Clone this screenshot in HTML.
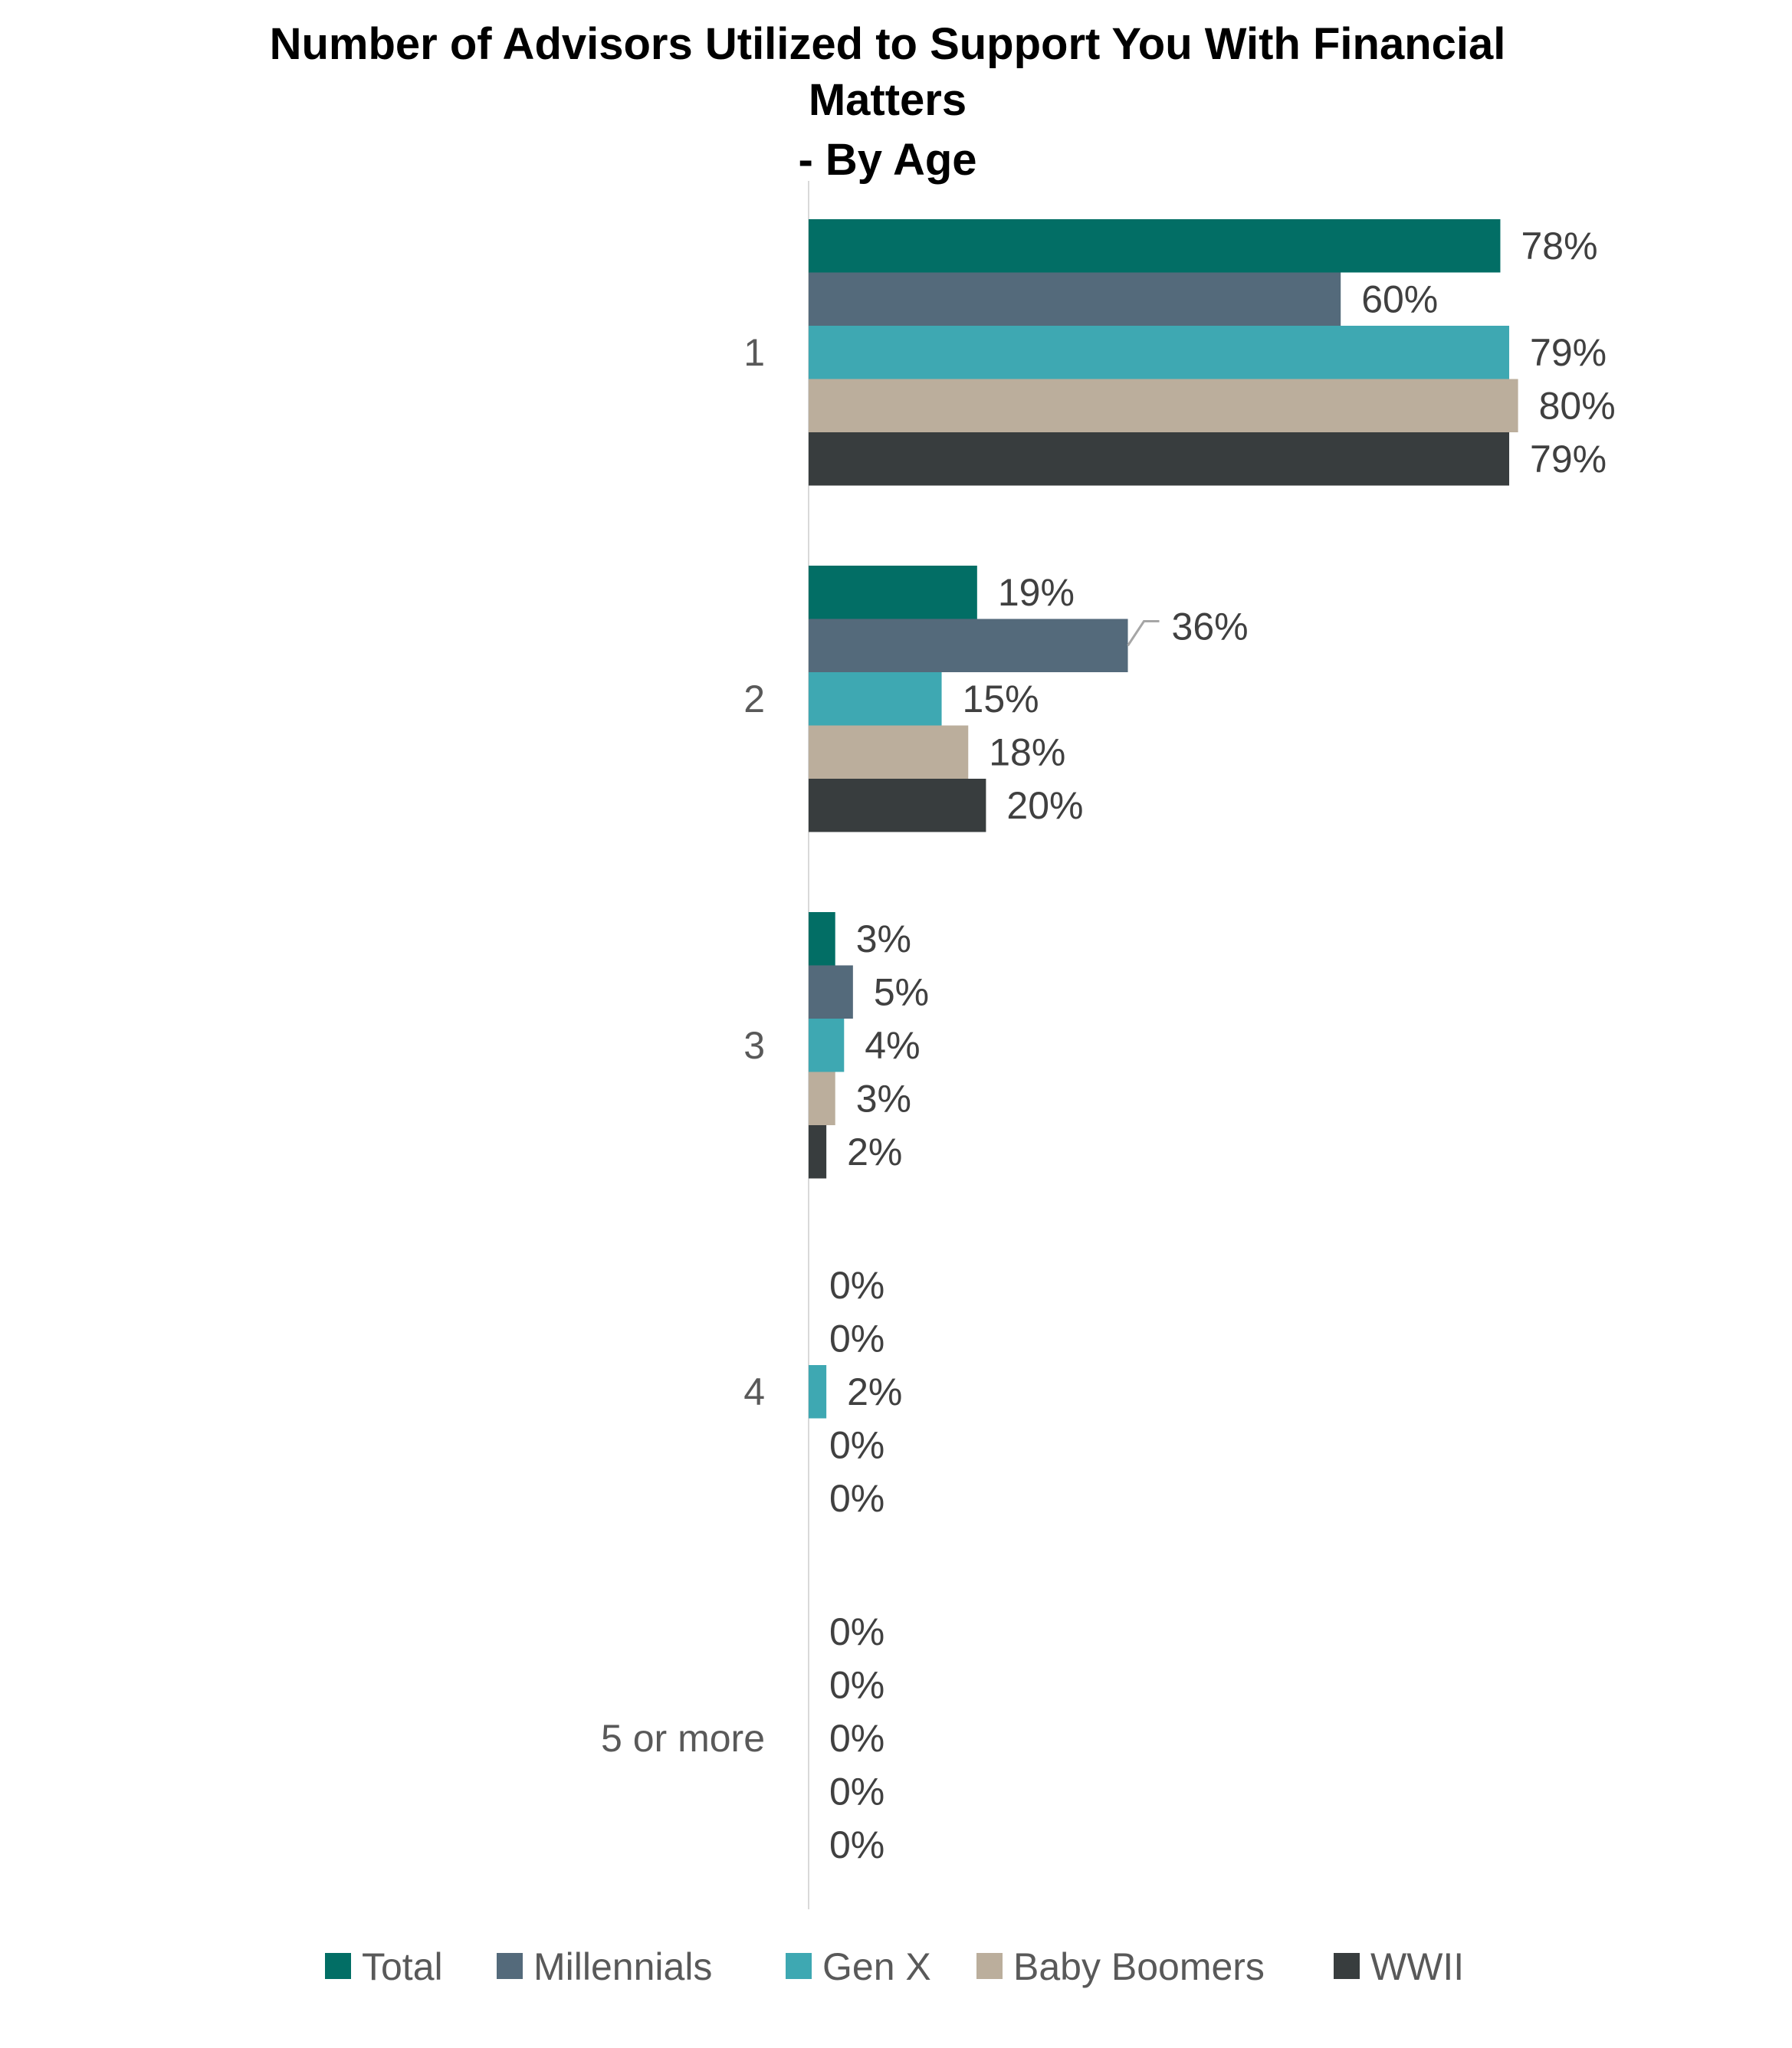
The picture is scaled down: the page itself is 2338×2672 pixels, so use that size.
<!DOCTYPE html>
<html><head><meta charset="utf-8"><style>
html,body{margin:0;padding:0;background:#fff}
svg text{font-family:"Liberation Sans","DejaVu Sans",sans-serif}
</style></head><body>
<svg id="chart" width="2338" height="2667" viewBox="0 0 2338 2667" xmlns="http://www.w3.org/2000/svg">
<g font-weight="bold" font-size="58" fill="#000" text-anchor="middle">
<text x="1158" y="77">Number of Advisors Utilized to Support You With Financial</text>
<text x="1158" y="150">Matters</text>
<text x="1158" y="228">- By Age</text>
</g>
<line x1="1055" y1="236" x2="1055" y2="2491" stroke="#d9d9d9" stroke-width="2"/>
<g id="bars"></g>
<g id="legend"></g>
</svg>
<script>
const categories = ["1","2","3","4","5 or more"];
const seriesNames = ["Total","Millennials","Gen X","Baby Boomers","WWII"];
const total = [78,19,3,0,0];
const millennials = [60,36,5,0,0];
const genX = [79,15,4,2,0];
const boomers = [80,18,3,0,0];
const wwii = [79,20,2,0,0];
const series = [total, millennials, genX, boomers, wwii];
const colors = ["#026e65","#546a7b","#3ea8b2","#bbae9c","#383d3e"];

const NS = "http://www.w3.org/2000/svg";
const x0 = 1055, pxPer = 11.57;
const groupTop = 286, groupPitch = 452, barH = 69.5;
const xScale = v => x0 + v * pxPer;
const yBar = (c, s) => groupTop + c * groupPitch + s * barH;
const g = document.getElementById('bars');
function mk(tag, attrs){const e=document.createElementNS(NS,tag);for(const k in attrs)e.setAttribute(k,attrs[k]);return e;}

categories.forEach((cat, c) => {
  const lbl = mk('text',{x:998,y:yBar(c,2)+barH/2+17,'text-anchor':'end','font-size':50,fill:'#595959'});
  lbl.textContent = cat;
  
  
  g.appendChild(lbl);
  series.forEach((vals, s) => {
    const v = vals[c];
    const y = yBar(c, s);
    if (v > 0) {
      const r = mk('rect',{x:x0,y:y,width:xScale(v)-x0,height:barH,fill:colors[s]});
      
      
      g.appendChild(r);
    }
    let lx = xScale(v) + 27, ly = y + barH/2 + 17;
    if (c === 1 && s === 1) {
      const ex = xScale(v);
      const ln = mk('polyline',{points:`${ex},${y+barH/2} ${ex+21},${y+3} ${ex+41},${y+3}`,fill:'none',stroke:'#a6a6a6','stroke-width':3});
      
      
      g.appendChild(ln);
      lx = ex + 57; ly = y + 27;
    }
    const t = mk('text',{x:lx,y:ly,'font-size':50,fill:'#404040'});
    t.textContent = v + '%';
    
    
    g.appendChild(t);
  });
});

const legendX = [424, 648, 1025, 1274, 1740];
const lg = document.getElementById('legend');
seriesNames.forEach((n, i) => {
  const item = mk('g',{});
  
  
  item.appendChild(mk('rect',{x:legendX[i],y:2548,width:34,height:34,fill:colors[i]}));
  const t = mk('text',{x:legendX[i]+48,y:2583,'font-size':50,fill:'#595959'});
  t.textContent = n;
  item.appendChild(t);
  lg.appendChild(item);
});
</script>
</body></html>
